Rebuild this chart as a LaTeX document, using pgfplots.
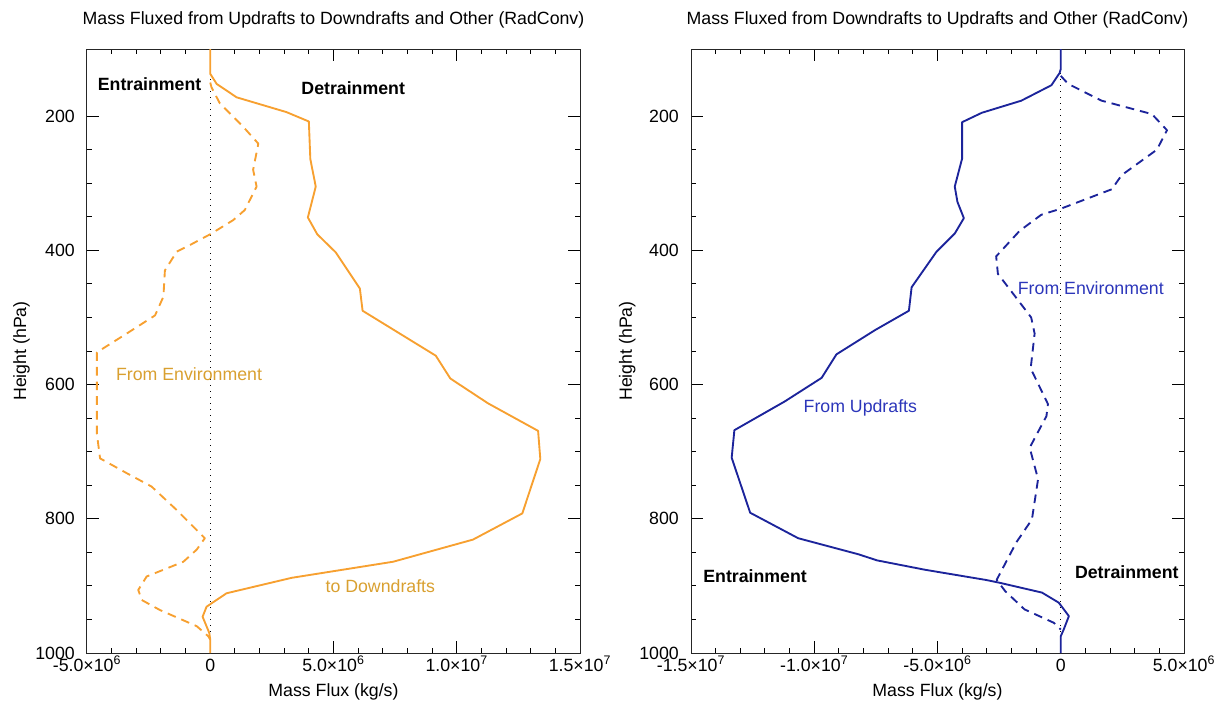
\documentclass[border=0pt]{standalone}
\usepackage{fontspec}
\setmainfont{Liberation Sans}
\usepackage{pgfplots}
\pgfplotsset{compat=1.18}

\definecolor{fluxorange}{RGB}{247,160,48}
\definecolor{textorange}{RGB}{217,160,48}
\definecolor{fluxblue}{RGB}{28,36,155}
\definecolor{textblue}{RGB}{44,54,186}

\pgfplotsset{
  fluxpanel/.style={
    scale only axis, width=369.75pt, height=453pt,
    y dir=reverse, ymin=100, ymax=1000,
    ytick={200,400,600,800,1000}, yticklabels={200,400,600,800,1000},
    minor y tick num=3, minor x tick num=4,
    scaled x ticks=false, scaled y ticks=false,
    tick align=inside,
    major tick length=9pt, minor tick length=3.75pt,
    every tick/.style={black, line width=0.75pt},
    axis line style={line width=0.75pt, black!85},
    title style={anchor=base, at={(0.5,1)}, yshift=12.75pt},
    xticklabel style={anchor=base, yshift=-13.5pt},
    yticklabel style={xshift=-4.5pt},
    xlabel style={at={(axis description cs:0.5,0)}, anchor=base, yshift=-32.25pt},
    xlabel={Mass Flux (kg/s)}, ylabel={Height (hPa)},
  },
  solidflux/.style={line width=1.4pt, line join=round},
  dashedflux/.style={line width=1.4pt, line join=round, dash pattern=on 6.5pt off 4.5pt},
  zeroline/.style={black, line width=0.9pt, dash pattern=on 0.9pt off 3.6pt},
}

\begin{document}
\fontsize{13.3}{16}\selectfont
\begin{tikzpicture}

% ---------------- updrafts -> downdrafts ----------------
\begin{axis}[fluxpanel,
  at={(0,0)}, anchor=south west,
  xmin=-5e6, xmax=1.5e7,
  xtick={-5e6,0,5e6,1e7,1.5e7},
  xticklabels={-5.0×10\textsuperscript{6},0,5.0×10\textsuperscript{6},1.0×10\textsuperscript{7},1.5×10\textsuperscript{7}},
  ylabel style={at={(axis description cs:-0.1237,0.5)}, anchor=base},
  title={Mass Fluxed from Updrafts to Downdrafts and Other (RadConv)},
]
\addplot[zeroline] coordinates {(0,100) (0,1000)};
% to downdrafts
\addplot[solidflux, fluxorange] coordinates {
 (0,100) (0,137) (0.26e6,152) (1.07e6,172) (3.09e6,194) (4.0e6,208)
 (4.06e6,264) (4.28e6,305) (3.96e6,351) (4.34e6,376) (5.09e6,403)
 (6.07e6,457) (6.18e6,490) (9.15e6,557) (9.74e6,591) (11.27e6,628)
 (13.3e6,669) (13.39e6,711) (12.66e6,792) (10.66e6,831) (7.42e6,864)
 (3.3e6,888) (0.66e6,911) (-0.15e6,931) (-0.31e6,946) (-0.04e6,970)
 (0,980) (0,1000)};
% from environment
\addplot[dashedflux, fluxorange] coordinates {
 (0,150) (0.05e6,157) (0.39e6,181) (1.34e6,216) (1.95e6,241) (1.74e6,280)
 (1.88e6,305) (1.4e6,340) (0.93e6,355) (0,376) (-0.82e6,392) (-1.36e6,402)
 (-1.84e6,430) (-1.9e6,469) (-2.24e6,497) (-3.39e6,524) (-4.6e6,552)
 (-4.6e6,574) (-4.6e6,673) (-4.47e6,710) (-3.39e6,732) (-2.38e6,752)
 (-1.36e6,787) (-0.22e6,829) (-0.55e6,846) (-1.09e6,864) (-2.58e6,886)
 (-2.92e6,906) (-2.78e6,921) (-2.04e6,936) (-0.55e6,960) (-0.08e6,975) (0,980)};
\node[font=\bfseries] at (axis cs:-2.46e6,153) {Entrainment};
\node[font=\bfseries] at (axis cs:5.8e6,158) {Detrainment};
\node[text=textorange] at (axis cs:-0.86e6,585) {From Environment};
\node[text=textorange] at (axis cs:6.9e6,900) {to Downdrafts};
\end{axis}

% ---------------- downdrafts -> updrafts ----------------
\begin{axis}[fluxpanel,
  at={(453pt,0)}, anchor=south west,
  xmin=-1.5e7, xmax=5e6,
  xtick={-1.5e7,-1e7,-5e6,0,5e6},
  xticklabels={-1.5×10\textsuperscript{7},-1.0×10\textsuperscript{7},-5.0×10\textsuperscript{6},0,5.0×10\textsuperscript{6}},
  ylabel style={at={(axis description cs:-0.12,0.5)}, anchor=base},
  title={Mass Fluxed from Downdrafts to Updrafts and Other (RadConv)},
]
\addplot[zeroline] coordinates {(0,100) (0,1000)};
% from updrafts
\addplot[solidflux, fluxblue] coordinates {
 (0,100) (0,130) (-0.05e6,136) (-0.38e6,154) (-1.6e6,177) (-3.2e6,195)
 (-4.0e6,209) (-4.0e6,263) (-4.3e6,305) (-4.19e6,328) (-3.93e6,352)
 (-4.3e6,375) (-5.04e6,402) (-6.05e6,455) (-6.16e6,490) (-7.54e6,519)
 (-9.1e6,555) (-9.7e6,590) (-11.19e6,625) (-13.24e6,668) (-13.35e6,709)
 (-12.6e6,791) (-10.65e6,829) (-8.2e6,853) (-7.45e6,862) (-5.5e6,876)
 (-3.06e6,891) (-2.52e6,895) (-0.76e6,910) (-0.08e6,925) (0.33e6,945)
 (0.12e6,965) (0,975) (0,1000)};
% from environment
\addplot[dashedflux, fluxblue] coordinates {
 (0,140) (0.3e6,152) (1.66e6,177) (3.7e6,197) (4.31e6,221) (3.9e6,250)
 (2.47e6,288) (2.07e6,309) (0,338) (-0.79e6,347) (-1.67e6,371)
 (-2.62e6,409) (-2.55e6,435) (-1.8e6,471) (-1.2e6,500) (-1.06e6,524)
 (-1.22e6,576) (-0.52e6,629) (-0.58e6,647) (-1.26e6,694) (-0.92e6,741)
 (-1.17e6,801) (-1.8e6,835) (-2.6e6,891) (-2.25e6,908) (-1.47e6,935)
 (-0.28e6,955) (0,965)};
\node[font=\bfseries] at (axis cs:-12.4e6,886) {Entrainment};
\node[font=\bfseries] at (axis cs:2.68e6,880) {Detrainment};
\node[text=textblue] at (axis cs:1.22e6,457) {From Environment};
\node[text=textblue] at (axis cs:-8.13e6,635) {From Updrafts};
\end{axis}

\pgfresetboundingbox
\useasboundingbox (-65.25pt,-36.75pt) rectangle (853.5pt,489.75pt);
\end{tikzpicture}
\end{document}
